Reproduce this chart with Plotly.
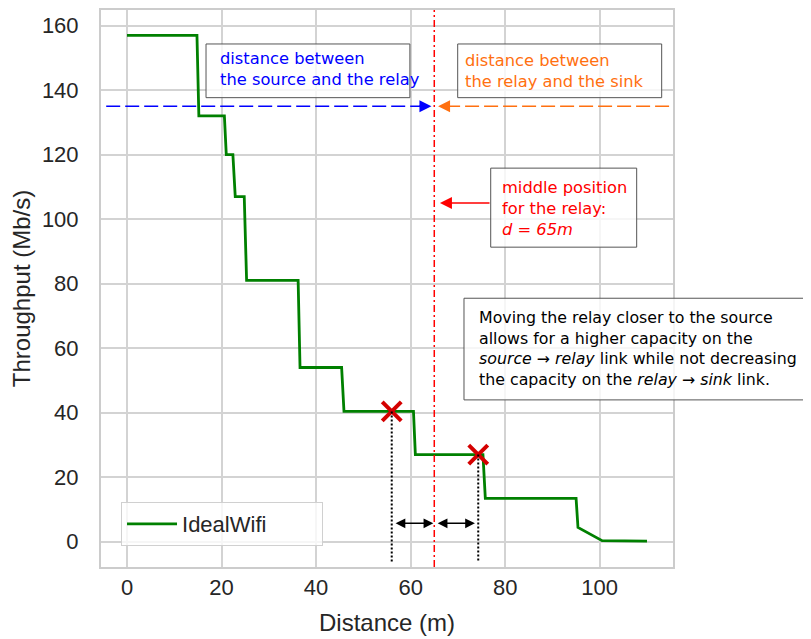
import plotly.graph_objects as go

# IdealWifi throughput vs distance (step curve)
distance = [0, 14.8, 15.2, 20.6, 21.0, 22.4, 22.9, 24.8, 25.3, 36.2, 36.6, 45.4, 45.9,
            60.6, 61.0, 75.3, 75.8, 95.0, 95.4, 100.5, 110.0]
throughput = [157, 157, 132, 132, 120, 120, 107, 107, 81, 81, 54, 54, 40.4,
              40.4, 27, 27, 13.4, 13.4, 4.4, 0.3, 0.2]

# candidate relay positions (red crosses)
cross_x = [56, 74.3]
cross_y = [40.4, 27]

relay_mid = 65
arrow_y = 135
gap_arrow_y = 5.7
dotted_bottom = -6.2

sans = "Liberation Sans, Arial"
note_font = "DejaVu Sans"
note_size = 16.3
tick_font = dict(family=sans, size=22, color="#262626")

fig = go.Figure()

fig.add_trace(go.Scatter(
    x=distance, y=throughput, mode="lines", name="IdealWifi",
    line=dict(color="green", width=2.8),
))
fig.add_trace(go.Scatter(
    x=cross_x, y=cross_y, mode="markers", showlegend=False,
    marker=dict(symbol="x-thin", size=19, line=dict(color="#d40000", width=4)),
))

shapes = []
# dotted drops from crosses
for cx, cy in zip(cross_x, cross_y):
    shapes.append(dict(type="line", xref="x", yref="y", x0=cx, x1=cx, y0=cy, y1=dotted_bottom,
                       line=dict(color="black", width=2, dash="2px,2px")))
# middle relay position
shapes.append(dict(type="line", xref="x", yref="paper", x0=relay_mid, x1=relay_mid, y0=0, y1=1,
                   line=dict(color="red", width=1.5, dash="7px,3px,2px,3px")))
# dashed distance lines
shapes.append(dict(type="line", xref="x", yref="y", x0=-4.4, x1=62.5, y0=arrow_y, y1=arrow_y,
                   line=dict(color="blue", width=1.5, dash="14px,5px")))
shapes.append(dict(type="line", xref="x", yref="y", x0=67.5, x1=115.5, y0=arrow_y, y1=arrow_y,
                   line=dict(color="#ff7010", width=1.5, dash="14px,5px")))

# text boxes (paper coords)
boxes = [
    (0.1836, 0.540, 0.8426, 0.939),
    (0.6236, 0.9802, 0.8426, 0.939),
    (0.6813, 0.9365, 0.5742, 0.7161),
    (0.6346, 1.2325, 0.300, 0.4825),
]
for x0, x1, y0, y1 in boxes:
    shapes.append(dict(type="rect", xref="paper", yref="paper", x0=x0, x1=x1, y0=y0, y1=y1,
                       line=dict(color="#555555", width=1), fillcolor="rgba(255,255,255,0.8)",
                       layer="above"))

annotations = [
    dict(xref="paper", yref="paper", x=0.2045, y=0.8936, xanchor="left", yanchor="middle",
         align="left", showarrow=False, text="distance between<br>the source and the relay",
         font=dict(family=note_font, size=note_size, color="blue")),
    dict(xref="paper", yref="paper", x=0.6334, y=0.8903, xanchor="left", yanchor="middle",
         align="left", showarrow=False, text="distance between<br>the relay and the sink",
         font=dict(family=note_font, size=note_size, color="#ff7010")),
    dict(xref="paper", yref="paper", x=0.6976, y=0.644, xanchor="left", yanchor="middle",
         align="left", showarrow=False,
         text="middle position<br>for the relay:<br><i>d = 65m</i>",
         font=dict(family=note_font, size=note_size, color="red")),
    dict(xref="paper", yref="paper", x=0.6568, y=0.3923, xanchor="left", yanchor="middle",
         align="left", showarrow=False,
         text="Moving the relay closer to the source<br>allows for a higher capacity on the<br>"
              "<i>source → relay</i> link while not decreasing<br>"
              "the capacity on the <i>relay → sink</i> link.",
         font=dict(family=note_font, size=15.8, color="black")),
]

# arrow heads
arrow_common = dict(xref="x", yref="y", axref="x", ayref="y", text="", showarrow=True,
                    arrowhead=2, arrowsize=1.6, arrowwidth=1.5)
annotations.append(dict(x=64.4, y=arrow_y, ax=61.5, ay=arrow_y, arrowcolor="blue", **arrow_common))
annotations.append(dict(x=65.8, y=arrow_y, ax=68.5, ay=arrow_y, arrowcolor="#ff7010", **arrow_common))
annotations.append(dict(x=66.2, y=105, ax=77.0, ay=105, arrowcolor="red", **arrow_common))
# double arrows between crosses and middle
for a, b in [(56.5, 64.8), (65.4, 73.6)]:
    annotations.append(dict(xref="x", yref="y", axref="x", ayref="y", text="", showarrow=True,
                            x=b, y=gap_arrow_y, ax=a, ay=gap_arrow_y, arrowcolor="black",
                            arrowhead=2, startarrowhead=2, arrowside="end+start",
                            arrowsize=1.3, startarrowsize=1.3, arrowwidth=1.5))

fig.update_layout(
    width=803, height=631,
    margin=dict(l=93, r=138, t=0, b=72),
    paper_bgcolor="white", plot_bgcolor="white",
    shapes=shapes, annotations=annotations,
    legend=dict(x=0.035, y=0.0376, xanchor="left", yanchor="bottom", orientation="h",
                entrywidth=135, itemwidth=50,
                bordercolor="#d0d0d0", borderwidth=1, bgcolor="rgba(255,255,255,0.8)",
                font=dict(family=sans, size=22, color="#262626")),
    xaxis=dict(range=[-5.5, 115.5], dtick=20, tick0=0, showgrid=True, gridcolor="#d3d3d3",
               gridwidth=1.5, zeroline=False, showline=True, mirror=True, linecolor="#cccccc",
               linewidth=2, tickfont=tick_font, ticklabelstandoff=0,
               title=dict(text="Distance (m)", font=dict(family=sans, size=24, color="#262626"),
                          standoff=15)),
    yaxis=dict(range=[-7.85, 164.85], dtick=20, tick0=0, showgrid=True, gridcolor="#d3d3d3",
               gridwidth=1.5, zeroline=False, showline=True, mirror=True, linecolor="#cccccc",
               linewidth=2, tickfont=tick_font, ticklabelstandoff=16,
               title=dict(text="Throughput (Mb/s)", font=dict(family=sans, size=24,
                                                              color="#262626"),
                          standoff=5)),
)

fig.write_html("out.html")
